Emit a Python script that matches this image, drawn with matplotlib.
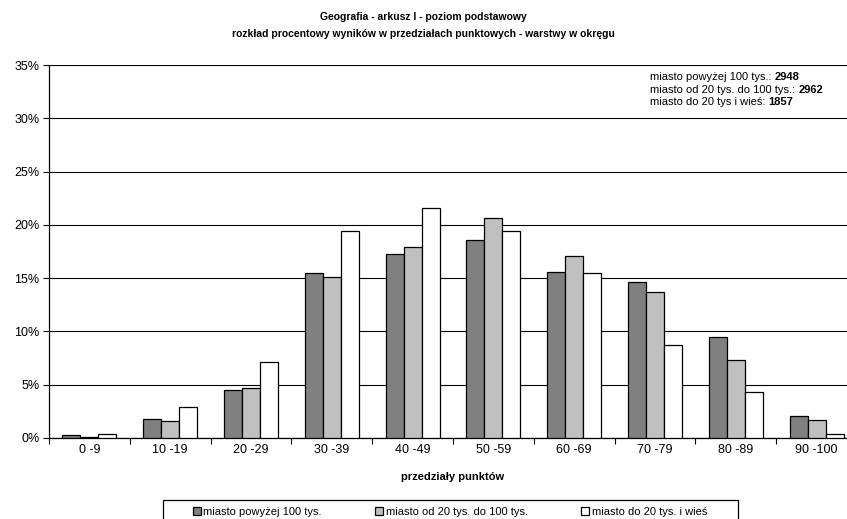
import matplotlib.pyplot as plt
import numpy as np
from matplotlib.patches import Rectangle
from matplotlib.ticker import FuncFormatter

# Wartości (procent zdających w przedziale)
przedzialy = ["0 -9", "10 -19", "20 -29", "30 -39", "40 -49",
              "50 -59", "60 -69", "70 -79", "80 -89", "90 -100"]
miasto_pow_100 = [0.3, 1.8, 4.5, 15.5, 17.3, 18.6, 15.6, 14.6, 9.5, 2.1]
miasto_20_100 = [0.1, 1.6, 4.7, 15.1, 17.9, 20.6, 17.1, 13.7, 7.3, 1.7]
miasto_do_20_wies = [0.4, 2.9, 7.1, 19.4, 21.6, 19.4, 15.5, 8.7, 4.3, 0.4]
serie = ["miasto powyżej 100 tys.", "miasto od 20 tys. do 100 tys.",
         "miasto do 20 tys. i wieś"]
liczebnosci = [("miasto powyżej 100 tys.: ", "2948"),
               ("miasto od 20 tys. do 100 tys.: ", "2962"),
               ("miasto do 20 tys i wieś: ", "1857")]

plt.rcParams['font.family'] = ['Liberation Sans', 'DejaVu Sans']

W, H = 847, 519
fig = plt.figure(figsize=(W / 100, H / 100), dpi=100)
ax = fig.add_axes([49 / W, 1 - 438 / H, (857 - 49) / W, (438 - 65) / H])

x = np.arange(len(przedzialy))
bw = 0.223
kolory = ["#808080", "#C0C0C0", "#FFFFFF"]
for i, (vals, kol, lab) in enumerate(zip([miasto_pow_100, miasto_20_100, miasto_do_20_wies], kolory, serie)):
    ax.bar(x + (i - 1) * bw, vals, bw, color=kol, edgecolor="black", linewidth=0.9,
           label=lab, zorder=3)

ax.set_xlim(-0.5, len(przedzialy) - 0.5)
ax.set_ylim(0, 35)
ax.set_yticks(np.arange(0, 36, 5))
ax.yaxis.set_major_formatter(FuncFormatter(lambda v, p: f"{v:.0f}%"))
ax.grid(axis="y", color="black", linewidth=0.8, zorder=0)
ax.set_xticks(x)
ax.set_xticklabels(przedzialy, fontsize=9)
ax.set_xticks(np.arange(-0.5, len(przedzialy), 1), minor=True)
ax.tick_params(axis="x", which="major", length=0, pad=4)
ax.tick_params(axis="x", which="minor", length=4, direction="out", width=0.8)
ax.tick_params(axis="y", length=4, direction="out", width=0.8, labelsize=9, pad=3)
for s in ["top", "right"]:
    ax.spines[s].set_visible(False)
ax.spines["left"].set_linewidth(0.9)
ax.spines["bottom"].set_linewidth(0.9)

ax.set_xlabel("przedziały punktów", fontsize=8, fontweight="bold", labelpad=12)

fig.text(0.5, 1 - 17 / H, "Geografia - arkusz I - poziom podstawowy",
         ha="center", va="center", fontsize=7.5, fontweight="bold")
fig.text(0.5, 1 - 34 / H, "rozkład procentowy wyników w przedziałach punktowych - warstwy w okręgu",
         ha="center", va="center", fontsize=7.5, fontweight="bold")

# liczebności warstw w prawym górnym rogu
fig.canvas.draw()
for k, (txt, num) in enumerate(liczebnosci):
    yy = 1 - (77 + k * 12.6) / H
    t = fig.text(650 / W, yy, txt, ha="left", va="center", fontsize=8)
    bb = t.get_window_extent(renderer=fig.canvas.get_renderer())
    fig.text(bb.x1 / W, yy, num, ha="left", va="center", fontsize=8, fontweight="bold")

# ramka legendy (dolna krawędź poza kadrem)
fig.patches.append(Rectangle((163 / W, -6 / H), (738 - 163) / W, (519 + 6 - 500) / H,
                             transform=fig.transFigure, facecolor="white",
                             edgecolor="black", linewidth=0.9))
leg = fig.legend(loc="center", bbox_to_anchor=(450 / W, 1 - 512 / H),
                 ncol=3, fontsize=8, frameon=False,
                 handlelength=0.7, handleheight=0.7, handletextpad=0.25,
                 columnspacing=4.8, borderaxespad=0, borderpad=0)

fig.savefig("out.png", dpi=100)
